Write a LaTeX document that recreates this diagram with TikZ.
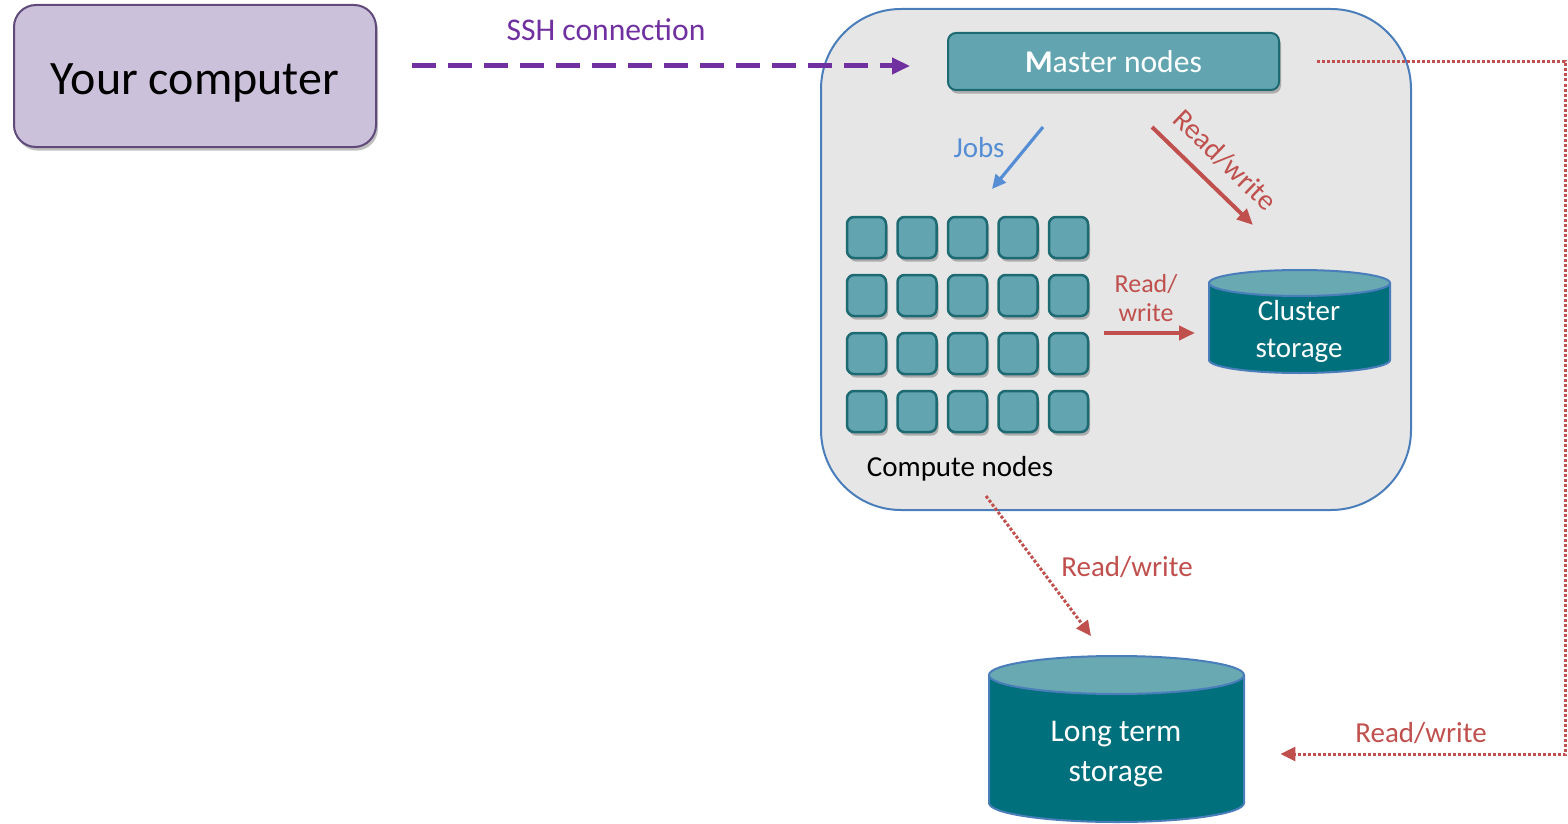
\documentclass[tikz,border=0pt]{standalone}
\usepackage{fontspec}
\setmainfont{Carlito}
\usetikzlibrary{arrows.meta,shadows}

\definecolor{pcfill}{HTML}{CCC1DA}
\definecolor{pcline}{HTML}{5F4A7A}
\definecolor{sshpurple}{HTML}{7030A0}
\definecolor{clusterfill}{HTML}{E6E6E6}
\definecolor{clusterline}{HTML}{4A7EBB}
\definecolor{tealfill}{HTML}{62A5B0}
\definecolor{tealline}{HTML}{1E6A72}
\definecolor{drumbody}{HTML}{00707C}
\definecolor{drumtop}{HTML}{68A9B2}
\definecolor{jobsblue}{HTML}{558ED5}
\definecolor{rwred}{HTML}{C0504D}

% storage drum: centre x, top-ellipse y, bottom-ellipse y, x radius, y radius (pt)
\newcommand\storagedrum[5]{%
  \fill[drumbody] (#1-#4*2,#2) rectangle (#1+#4*2,#3);
  \fill[drumbody] (#1,#3) ellipse[x radius=#4pt, y radius=#5pt];
  \draw[clusterline, line width=1pt] (#1-#4*2,#2) -- (#1-#4*2,#3)
     arc[start angle=180, end angle=360, x radius=#4pt, y radius=#5pt] -- (#1+#4*2,#2);
  \filldraw[fill=drumtop, draw=clusterline, line width=1pt] (#1,#2) ellipse[x radius=#4pt, y radius=#5pt];
}

\tikzset{
  soft shadow/.style={drop shadow={shadow xshift=1pt, shadow yshift=-1.8pt, opacity=0.25, fill=black}},
  pcbox/.style={draw=pcline, fill=pcfill, line width=1pt, rounded corners=11pt, soft shadow},
  clusterbox/.style={draw=clusterline, fill=clusterfill, line width=1pt, rounded corners=40pt},
  masterbox/.style={draw=tealline, fill=tealfill, line width=1pt, rounded corners=4pt,
    soft shadow, text=white, font=\fontsize{15.8}{19}\selectfont},
  cnode/.style={draw=tealline, fill=tealfill, line width=1.25pt, rounded corners=3.5pt,
    minimum width=19.5pt, minimum height=20.5pt, inner sep=0pt, soft shadow},
  lbl/.style={font=\fontsize{14.5}{17.5}\selectfont, inner sep=0pt},
  drumtext/.style={text=white, align=center, inner sep=0pt},
  ssh arrow/.style={draw=sshpurple, line width=2.5pt, dash pattern=on 12pt off 6pt,
    -{Triangle[length=9pt, width=8pt]}},
  jobs arrow/.style={draw=jobsblue, line width=1.6pt, -{Triangle[length=7pt, width=6.5pt]}},
  rw arrow/.style={draw=rwred, line width=2pt, -{Triangle[length=8pt, width=7pt]}},
  rw dotted/.style={draw=rwred, line width=1.5pt, dash pattern=on 1.5pt off 1pt,
    -{Triangle[length=7.5pt, width=7pt]}},
}

\begin{document}
\begin{tikzpicture}[x=0.5pt, y=-0.5pt]
\useasboundingbox (0,0) rectangle (1568,824);

% cluster enclosure
\node[clusterbox, minimum width=295pt, minimum height=250.5pt] (cluster) at (1116,259.5) {};

% your computer
\node[pcbox, minimum width=181pt, minimum height=71pt] (pc) at (195,76) {};
\node[inner sep=0pt, font=\fontsize{24}{28}\selectfont] (pctext) at (195,82.5) {Your computer};

% master nodes
\node[masterbox, minimum width=165.5pt, minimum height=28.5pt] (master) at (1113.5,61.5)
  {\textbf{M}aster nodes};

% compute node grid
\foreach \r in {1,...,4}
  \foreach \c in {1,...,5}
    \node[cnode] (c\r\c) at ({866.5+50.5*(\c-1)}, {237.5+58*(\r-1)}) {};
\node[lbl, text=black] (cnlabel) at (960,469) {Compute nodes};

% cluster storage drum
\storagedrum{1299.5}{283}{360}{45.25}{6.5}
\node[minimum width=90.5pt, minimum height=51.5pt, inner sep=0pt] (cs) at (1299.5,321.5) {};
\node[drumtext, font=\fontsize{14.5}{18.5}\selectfont] (cstext) at (1299,331) {Cluster\\storage};

% long term storage drum
\storagedrum{1116.5}{675}{803}{63.75}{9.5}
\node[minimum width=127.5pt, minimum height=83pt, inner sep=0pt] (lts) at (1116.5,739) {};
\node[drumtext, font=\fontsize{15.8}{20}\selectfont] (ltstext) at (1116,754) {Long term\\storage};

% connector end points
\coordinate (sshA) at (412,66);
\coordinate (sshB) at (910,66);
\coordinate (jobsA) at (1043,127);
\coordinate (jobsB) at (992,189);
\coordinate (rwA) at (1152,127);
\coordinate (rwB) at (1253,225);
\coordinate (rwC) at (1104,333);
\coordinate (rwD) at (1195,333);
\coordinate (rwE) at (986,496);
\coordinate (rwF) at (1091,636);
\coordinate (rail) at (1565,754);

% SSH connection
\draw[ssh arrow] (sshA) -- (sshB);
\node[lbl, text=sshpurple, font=\fontsize{15.8}{19}\selectfont] (sshlbl) at (606,30) {SSH connection};

% jobs
\draw[jobs arrow] (jobsA) -- (jobsB);
\node[lbl, text=jobsblue] (jobslbl) at (979,148) {Jobs};

% master to cluster storage
\draw[rw arrow] (rwA) -- (rwB);
\node[lbl, text=rwred, rotate=-44] (rwlbl1) at (1225,160) {Read/write};

% compute to cluster storage
\draw[rw arrow] (rwC) -- (rwD);
\node[lbl, text=rwred, align=center, font=\fontsize{13}{14.5}\selectfont] (rwlbl2) at (1146,298) {Read/\\write};

% compute to long term storage
\draw[rw dotted] (rwE) -- (rwF);
\node[lbl, text=rwred] (rwlbl3) at (1127,567) {Read/write};

% master to long term storage
\draw[rw dotted, shorten <=18.5pt, shorten >=18pt] (master.east) -| (rail) -- (lts.east |- rail);
\node[lbl, text=rwred] (rwlbl4) at (1421,733) {Read/write};

\end{tikzpicture}
\end{document}
